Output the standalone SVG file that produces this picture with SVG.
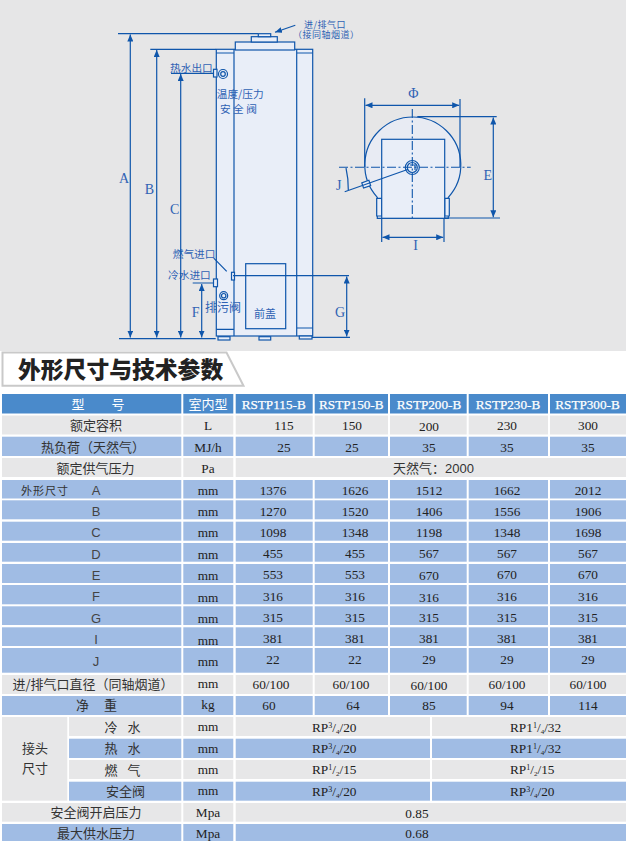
<svg xmlns="http://www.w3.org/2000/svg" width="626" height="843" viewBox="0 0 626 843">
<style>
.l{fill:none;stroke:#0f56ab;stroke-width:1.2}
.b{fill:#e9eef8;stroke:#0f56ab;stroke-width:1.2}
.d{fill:none;stroke:#0f56ab;stroke-width:1.1;stroke-dasharray:9 2.5 2 2.5}
.a{fill:none;stroke:#0f56ab;stroke-width:1.2;marker-start:url(#ah);marker-end:url(#ah)}
.cn{font-family:"Noto Sans CJK SC",sans-serif;font-size:10.7px;fill:#2f62b4}
.vt{font-family:"Noto Sans CJK SC",sans-serif;font-size:9px;letter-spacing:.5px;fill:#2f62b4}
.en{font-family:"Liberation Serif",serif;font-size:14px;fill:#2f62b4;text-anchor:middle}
.h{fill:#4a8acb}.u{fill:#a0bce4}.g{fill:#e7e7e8}
.t{font-family:"Noto Sans CJK SC",sans-serif;font-size:13px;fill:#333;text-anchor:middle}
.s{font-family:"Noto Sans CJK SC",sans-serif;font-size:13px;fill:#333}
.w{font-family:"Noto Sans CJK SC",sans-serif;font-size:13px;fill:#fff;text-anchor:middle}
.n{font-family:"Liberation Serif",serif;font-size:13.3px;fill:#222;text-anchor:middle}
.r{font-family:"Liberation Serif",serif;font-size:13.2px;fill:#fff;text-anchor:middle;stroke:#fff;stroke-width:.25}
.v{font-family:"Liberation Serif",serif;font-size:13.3px;fill:#222}
.k{font-family:"Liberation Sans",sans-serif;font-size:13px;fill:#444;text-anchor:middle}
</style>
<defs>
<marker id="ah" markerUnits="userSpaceOnUse" markerWidth="8" markerHeight="6" refX="7" refY="3" orient="auto-start-reverse"><path d="M0 0L7 3L0 6Z" fill="#0f56ab"/></marker>
<marker id="ae" markerUnits="userSpaceOnUse" markerWidth="8" markerHeight="6" refX="7" refY="3" orient="auto"><path d="M0 0L7 3L0 6Z" fill="#0f56ab"/></marker>
</defs>
<rect width="626" height="843" fill="#fff"/>
<rect width="626" height="351" fill="#e6e6e7"/>

<g id="heater-side">
<rect class="b" x="216.3" y="49.3" width="96.4" height="286.7"/>
<path class="l" d="M216.3 53H234M296.7 53H312.7M234 49.3V336M296.7 49.3V336M216.3 329.3H234M296.7 328H312.7"/>
<rect class="b" x="235.3" y="42" width="59.4" height="8"/>
<rect class="b" x="251.3" y="36.7" width="26" height="5.3"/>
<rect class="b" x="258.3" y="33.7" width="12.4" height="3"/>
<rect class="l" x="245.7" y="263.7" width="40" height="65"/>
<rect class="b" x="218" y="336.7" width="12" height="3.3"/>
<rect class="b" x="259" y="336.7" width="11.7" height="3.3"/>
<rect class="b" x="299.3" y="336" width="12.7" height="3"/>
<rect class="b" x="213.5" y="69.3" width="3.5" height="7.7"/>
<circle class="b" cx="223" cy="74" r="4.5"/><circle class="l" cx="223" cy="74" r="2.3"/>
<rect class="b" x="213.5" y="279" width="4" height="7.7"/>
<rect class="b" x="231.5" y="272.3" width="3" height="7.7"/>
<circle class="b" cx="223.7" cy="295.7" r="4"/><circle class="l" cx="223.7" cy="295.7" r="2.2"/>
<text class="cn" x="170" y="71.7">热水出口</text>
<text class="cn" x="216.7" y="97.7">温度/压力</text>
<text class="cn" x="220" y="112.7" xml:space="preserve">安 全 阀</text>
<text class="cn" x="172.7" y="258">燃气进口</text>
<text class="cn" x="168" y="279.3">冷水进口</text>
<text class="cn" x="205" y="311.7" style="font-size:12px">排污阀</text>
<text class="cn" x="254" y="318" style="font-size:11px">前盖</text>
<text class="vt" x="304" y="27.5">进/排气口</text>
<text class="vt" x="293" y="38">（接同轴烟道）</text>
</g>

<g id="heater-top">
<path class="b" d="M377.3 197.3A48 48 0 1 1 448.3 197.3V218.3H377.3Z" style="fill:#e8ebf3"/>
<path class="b" d="M381.7 198.3H376.7V216H381.7ZM444.7 198.3H449.3V216H444.7Z"/>
<rect class="b" x="381.7" y="139.3" width="63" height="79"/>
<circle class="b" cx="412.3" cy="167.5" r="7"/><circle class="l" cx="412.3" cy="167.5" r="5"/>
<path class="l" d="M410 165H415V170"/>
<rect class="b" x="362.5" y="181.5" width="7.5" height="5.5" transform="rotate(-19 366 184.3)"/>
</g>

<g id="connectors">
<path class="l" d="M118 33.7H258M150.3 49.3H216M171 73.3H214M119 338.7H215.7M192.7 283H214M233 275.7H349M312 337.3H350M214 258.3L226.7 271.3"/>
<path class="a" d="M130.3 34.5V337.5"/>
<path class="a" d="M156.7 50V337.5"/>
<path class="a" d="M180.7 74V337.5"/>
<path class="a" d="M201.7 284V337.5"/>
<path class="a" d="M346.7 276.5V336.5"/>
<path class="l" d="M295.3 25.3L275 32.3" style="marker-end:url(#ae)"/>
<path class="l" d="M364.7 98.3V167M460 99V167M417.3 116.7H496.7M445 218H500M381.7 218V242M444 218V242"/>
<path class="a" d="M365.5 105.3H459.2"/>
<path class="a" d="M493.3 117.5V217.3"/>
<path class="a" d="M382.5 237.3H443.2"/>
<path class="d" d="M412.3 109V218M339 167.3H470.7"/>
<path class="l" d="M344.7 191.7L408.3 169.3M346 168Q348.5 179 348.3 190"/>
</g>

<g id="dimension-labels">
<text class="en" x="124" y="183">A</text>
<text class="en" x="149.3" y="194">B</text>
<text class="en" x="174.7" y="214">C</text>
<text class="en" x="195.7" y="317">F</text>
<text class="en" x="340" y="316.7">G</text>
<text class="en" x="413.3" y="98.3">Φ</text>
<text class="en" x="487.7" y="180">E</text>
<text class="en" x="415.7" y="250">I</text>
<text class="en" x="338.7" y="190">J</text>
</g>

<g id="title">
<path d="M2.5 352.5H226.5L243.5 385.8H2.5Z" fill="#fff" stroke="#c9c9c9" stroke-width="2"/>
<text x="18" y="378" style="font-family:'Noto Sans CJK SC',sans-serif;font-size:22.8px;font-weight:900;fill:#222">外形尺寸与技术参数</text>
</g>

<g id="table">
<g class="h"><rect x="2" y="394" width="179.3" height="19.5"/><rect x="183.3" y="394" width="50" height="19.5"/><rect x="235.7" y="394" width="77" height="19.5"/><rect x="314.7" y="394" width="73.3" height="19.5"/><rect x="390" y="394" width="76.7" height="19.5"/><rect x="468.7" y="394" width="79.3" height="19.5"/><rect x="550" y="394" width="76" height="19.5"/></g>

<g class="g"><rect x="2" y="415.5" width="179.3" height="19"/><rect x="183.3" y="415.5" width="50" height="19"/><rect x="235.7" y="415.5" width="77" height="19"/><rect x="314.7" y="415.5" width="73.3" height="19"/><rect x="390" y="415.5" width="76.7" height="19"/><rect x="468.7" y="415.5" width="79.3" height="19"/><rect x="550" y="415.5" width="76" height="19"/></g>
<g class="u"><rect x="2" y="436.7" width="179.3" height="19.3"/><rect x="183.3" y="436.7" width="50" height="19.3"/><rect x="235.7" y="436.7" width="77" height="19.3"/><rect x="314.7" y="436.7" width="73.3" height="19.3"/><rect x="390" y="436.7" width="76.7" height="19.3"/><rect x="468.7" y="436.7" width="79.3" height="19.3"/><rect x="550" y="436.7" width="76" height="19.3"/></g>
<g class="g"><rect x="2" y="458" width="179.3" height="19"/><rect x="183.3" y="458" width="50" height="19"/><rect x="235.7" y="458" width="390.3" height="19"/></g>

<g class="u">
<rect x="2" y="480" width="179.3" height="18.5"/><rect x="183.3" y="480" width="50" height="18.5"/><rect x="235.7" y="480" width="77" height="18.5"/><rect x="314.7" y="480" width="73.3" height="18.5"/><rect x="390" y="480" width="76.7" height="18.5"/><rect x="468.7" y="480" width="79.3" height="18.5"/><rect x="550" y="480" width="76" height="18.5"/>
<rect x="2" y="500.3" width="179.3" height="19"/><rect x="183.3" y="500.3" width="50" height="19"/><rect x="235.7" y="500.3" width="77" height="19"/><rect x="314.7" y="500.3" width="73.3" height="19"/><rect x="390" y="500.3" width="76.7" height="19"/><rect x="468.7" y="500.3" width="79.3" height="19"/><rect x="550" y="500.3" width="76" height="19"/>
<rect x="2" y="521.7" width="179.3" height="19"/><rect x="183.3" y="521.7" width="50" height="19"/><rect x="235.7" y="521.7" width="77" height="19"/><rect x="314.7" y="521.7" width="73.3" height="19"/><rect x="390" y="521.7" width="76.7" height="19"/><rect x="468.7" y="521.7" width="79.3" height="19"/><rect x="550" y="521.7" width="76" height="19"/>
<rect x="2" y="543" width="179.3" height="18.7"/><rect x="183.3" y="543" width="50" height="18.7"/><rect x="235.7" y="543" width="77" height="18.7"/><rect x="314.7" y="543" width="73.3" height="18.7"/><rect x="390" y="543" width="76.7" height="18.7"/><rect x="468.7" y="543" width="79.3" height="18.7"/><rect x="550" y="543" width="76" height="18.7"/>
<rect x="2" y="564" width="179.3" height="19"/><rect x="183.3" y="564" width="50" height="19"/><rect x="235.7" y="564" width="77" height="19"/><rect x="314.7" y="564" width="73.3" height="19"/><rect x="390" y="564" width="76.7" height="19"/><rect x="468.7" y="564" width="79.3" height="19"/><rect x="550" y="564" width="76" height="19"/>
<rect x="2" y="585" width="179.3" height="19.3"/><rect x="183.3" y="585" width="50" height="19.3"/><rect x="235.7" y="585" width="77" height="19.3"/><rect x="314.7" y="585" width="73.3" height="19.3"/><rect x="390" y="585" width="76.7" height="19.3"/><rect x="468.7" y="585" width="79.3" height="19.3"/><rect x="550" y="585" width="76" height="19.3"/>
<rect x="2" y="606.3" width="179.3" height="18.7"/><rect x="183.3" y="606.3" width="50" height="18.7"/><rect x="235.7" y="606.3" width="77" height="18.7"/><rect x="314.7" y="606.3" width="73.3" height="18.7"/><rect x="390" y="606.3" width="76.7" height="18.7"/><rect x="468.7" y="606.3" width="79.3" height="18.7"/><rect x="550" y="606.3" width="76" height="18.7"/>
<rect x="2" y="627.3" width="179.3" height="18.7"/><rect x="183.3" y="627.3" width="50" height="18.7"/><rect x="235.7" y="627.3" width="77" height="18.7"/><rect x="314.7" y="627.3" width="73.3" height="18.7"/><rect x="390" y="627.3" width="76.7" height="18.7"/><rect x="468.7" y="627.3" width="79.3" height="18.7"/><rect x="550" y="627.3" width="76" height="18.7"/>
<rect x="2" y="648" width="179.3" height="24.7"/><rect x="183.3" y="648" width="50" height="24.7"/><rect x="235.7" y="648" width="77" height="24.7"/><rect x="314.7" y="648" width="73.3" height="24.7"/><rect x="390" y="648" width="76.7" height="24.7"/><rect x="468.7" y="648" width="79.3" height="24.7"/><rect x="550" y="648" width="76" height="24.7"/>
</g>
<g class="g"><rect x="2" y="675" width="179.3" height="19"/><rect x="183.3" y="675" width="50" height="19"/><rect x="235.7" y="675" width="77" height="19"/><rect x="314.7" y="675" width="73.3" height="19"/><rect x="390" y="675" width="76.7" height="19"/><rect x="468.7" y="675" width="79.3" height="19"/><rect x="550" y="675" width="76" height="19"/></g>
<g class="u"><rect x="2" y="696" width="179.3" height="19"/><rect x="183.3" y="696" width="50" height="19"/><rect x="235.7" y="696" width="77" height="19"/><rect x="314.7" y="696" width="73.3" height="19"/><rect x="390" y="696" width="76.7" height="19"/><rect x="468.7" y="696" width="79.3" height="19"/><rect x="550" y="696" width="76" height="19"/></g>

<rect class="g" x="2" y="717" width="65.3" height="83.7"/>
<g class="g"><rect x="69" y="717" width="112.3" height="19"/><rect x="183.3" y="717" width="50" height="19"/><rect x="235.7" y="717" width="194.3" height="19"/><rect x="432" y="717" width="194" height="19"/>
<rect x="69" y="760" width="112.3" height="19"/><rect x="183.3" y="760" width="50" height="19"/><rect x="235.7" y="760" width="194.3" height="19"/><rect x="432" y="760" width="194" height="19"/>
<rect x="2" y="803" width="179.3" height="18.7"/><rect x="183.3" y="803" width="50" height="18.7"/><rect x="235.7" y="803" width="390.3" height="18.7"/></g>
<g class="u"><rect x="69" y="738.7" width="112.3" height="19.3"/><rect x="183.3" y="738.7" width="50" height="19.3"/><rect x="235.7" y="738.7" width="194.3" height="19.3"/><rect x="432" y="738.7" width="194" height="19.3"/>
<rect x="69" y="781.7" width="112.3" height="19"/><rect x="183.3" y="781.7" width="50" height="19"/><rect x="235.7" y="781.7" width="194.3" height="19"/><rect x="432" y="781.7" width="194" height="19"/>
<rect x="2" y="824" width="179.3" height="17"/><rect x="183.3" y="824" width="50" height="17"/><rect x="235.7" y="824" width="390.3" height="17"/></g>

<text class="w" x="78" y="409">型</text><text class="w" x="118" y="409">号</text>
<text class="w" x="208" y="409">室内型</text>
<text class="r" x="273.7" y="409">RSTP115-B</text><text class="r" x="351.3" y="409">RSTP150-B</text><text class="r" x="429" y="409">RSTP200-B</text><text class="r" x="508" y="409">RSTP230-B</text><text class="r" x="587.5" y="409">RSTP300-B</text>

<text class="t" x="96" y="430">额定容积</text><text class="n" x="208" y="430">L</text><text class="n" x="284" y="430">115</text><text class="n" x="352" y="430">150</text><text class="n" x="429" y="431">200</text><text class="n" x="507" y="430">230</text><text class="n" x="588" y="430">300</text>
<text class="t" x="93" y="452">热负荷（天然气）</text><text class="n" x="208" y="452">MJ/h</text><text class="n" x="284" y="452">25</text><text class="n" x="352" y="452">25</text><text class="n" x="429" y="452">35</text><text class="n" x="507" y="452">35</text><text class="n" x="588" y="452">35</text>
<text class="t" x="95.5" y="473">额定供气压力</text><text class="n" x="208" y="473">Pa</text>
<text class="s" x="393" y="473">天然气：<tspan style="font-family:'Liberation Sans',sans-serif">2000</tspan></text>

<text class="s" x="21" y="495" style="font-size:11px;letter-spacing:1px">外形尺寸</text><text class="k" x="96" y="495">A</text><text class="n" x="208" y="495">mm</text><text class="n" x="273" y="495">1376</text><text class="n" x="355" y="495">1626</text><text class="n" x="429" y="495">1512</text><text class="n" x="507" y="495">1662</text><text class="n" x="588" y="495">2012</text>
<text class="k" x="96" y="516">B</text><text class="n" x="208" y="516">mm</text><text class="n" x="273" y="516">1270</text><text class="n" x="355" y="516">1520</text><text class="n" x="429" y="516">1406</text><text class="n" x="507" y="516">1556</text><text class="n" x="588" y="516">1906</text>
<text class="k" x="96" y="537">C</text><text class="n" x="208" y="537.3">mm</text><text class="n" x="273" y="537.3">1098</text><text class="n" x="355" y="537.3">1348</text><text class="n" x="429" y="537.3">1198</text><text class="n" x="507" y="537.3">1348</text><text class="n" x="588" y="537.3">1698</text>
<text class="k" x="96" y="559">D</text><text class="n" x="208" y="559">mm</text><text class="n" x="273" y="558.3">455</text><text class="n" x="355" y="558.3">455</text><text class="n" x="429" y="558.3">567</text><text class="n" x="507" y="558.3">567</text><text class="n" x="588" y="558.3">567</text>
<text class="k" x="96" y="580">E</text><text class="n" x="208" y="580">mm</text><text class="n" x="273" y="579.3">553</text><text class="n" x="355" y="579.3">553</text><text class="n" x="429" y="580">670</text><text class="n" x="507" y="579.3">670</text><text class="n" x="588" y="579.3">670</text>
<text class="k" x="96" y="601">F</text><text class="n" x="208" y="601.7">mm</text><text class="n" x="273" y="600.7">316</text><text class="n" x="355" y="600.7">316</text><text class="n" x="429" y="601.7">316</text><text class="n" x="507" y="600.7">316</text><text class="n" x="588" y="600.7">316</text>
<text class="k" x="96" y="623">G</text><text class="n" x="208" y="623">mm</text><text class="n" x="273" y="621.7">315</text><text class="n" x="355" y="621.7">315</text><text class="n" x="429" y="622">315</text><text class="n" x="507" y="621.7">315</text><text class="n" x="588" y="621.7">315</text>
<text class="k" x="96" y="644">I</text><text class="n" x="208" y="645">mm</text><text class="n" x="273" y="642.7">381</text><text class="n" x="355" y="642.7">381</text><text class="n" x="429" y="643">381</text><text class="n" x="507" y="642.7">381</text><text class="n" x="588" y="642.7">381</text>
<text class="k" x="96" y="666">J</text><text class="n" x="208" y="666">mm</text><text class="n" x="273" y="664">22</text><text class="n" x="355" y="664">22</text><text class="n" x="429" y="664">29</text><text class="n" x="507" y="664">29</text><text class="n" x="588" y="664">29</text>
<text class="t" x="93" y="689">进/排气口直径（同轴烟道）</text><text class="n" x="208" y="688">mm</text><text class="n" x="271" y="689">60/100</text><text class="n" x="351" y="688.5">60/100</text><text class="n" x="429" y="690">60/100</text><text class="n" x="507" y="688.5">60/100</text><text class="n" x="588" y="688.5">60/100</text>
<text class="s" x="76" y="710">净</text><text class="s" x="104" y="710">重</text><text class="n" x="208" y="709">kg</text><text class="n" x="269" y="710">60</text><text class="n" x="353" y="710">64</text><text class="n" x="429" y="710">85</text><text class="n" x="507" y="710">94</text><text class="n" x="588" y="710">114</text>

<text class="t" x="35" y="753">接头</text><text class="t" x="35" y="773">尺寸</text>
<text class="s" x="104.5" y="732">冷</text><text class="s" x="127.5" y="732">水</text><text class="n" x="208" y="731">mm</text>
<text class="s" x="104.5" y="753">热</text><text class="s" x="127.5" y="753">水</text><text class="n" x="208" y="753">mm</text>
<text class="s" x="104.5" y="775">燃</text><text class="s" x="127.5" y="775">气</text><text class="n" x="208" y="774">mm</text>
<text class="t" x="125.5" y="796">安全阀</text><text class="n" x="208" y="795">mm</text>

<text class="v" x="312" y="731.7">RP<tspan dy="-4" font-size="8">3</tspan><tspan dy="4">/</tspan><tspan dy="2" font-size="7">4</tspan><tspan dy="-2">/20</tspan></text>
<text class="v" x="312" y="752.7">RP<tspan dy="-4" font-size="8">3</tspan><tspan dy="4">/</tspan><tspan dy="2" font-size="7">4</tspan><tspan dy="-2">/20</tspan></text>
<text class="v" x="312" y="774.3">RP<tspan dy="-4" font-size="8">1</tspan><tspan dy="4">/</tspan><tspan dy="2" font-size="7">2</tspan><tspan dy="-2">/15</tspan></text>
<text class="v" x="312" y="796">RP<tspan dy="-4" font-size="8">3</tspan><tspan dy="4">/</tspan><tspan dy="2" font-size="7">4</tspan><tspan dy="-2">/20</tspan></text>
<text class="v" x="510" y="731.7">RP1<tspan dy="-4" font-size="8">1</tspan><tspan dy="4">/</tspan><tspan dy="2" font-size="7">4</tspan><tspan dy="-2">/32</tspan></text>
<text class="v" x="510" y="752.7">RP1<tspan dy="-4" font-size="8">1</tspan><tspan dy="4">/</tspan><tspan dy="2" font-size="7">4</tspan><tspan dy="-2">/32</tspan></text>
<text class="v" x="510" y="774.3">RP<tspan dy="-4" font-size="8">1</tspan><tspan dy="4">/</tspan><tspan dy="2" font-size="7">2</tspan><tspan dy="-2">/15</tspan></text>
<text class="v" x="510" y="796">RP<tspan dy="-4" font-size="8">3</tspan><tspan dy="4">/</tspan><tspan dy="2" font-size="7">4</tspan><tspan dy="-2">/20</tspan></text>

<text class="t" x="96" y="816.7">安全阀开启压力</text><text class="n" x="208" y="816.7">Mpa</text><text class="n" x="417" y="818.3">0.85</text>
<text class="t" x="96" y="837.7">最大供水压力</text><text class="n" x="208" y="837.7">Mpa</text><text class="n" x="417" y="837.7">0.68</text>
</g>
</svg>
